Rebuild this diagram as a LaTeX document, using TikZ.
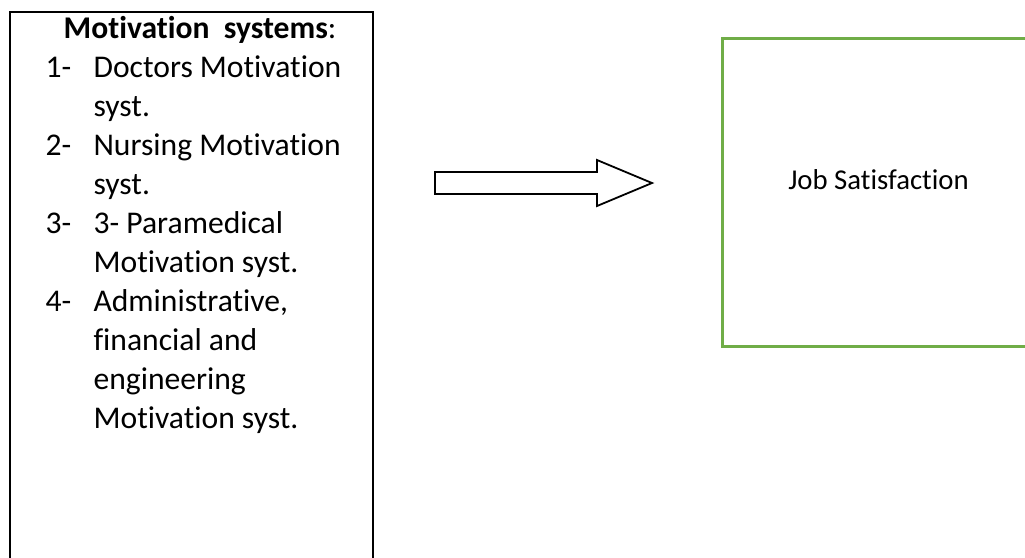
\documentclass[tikz,border=0pt]{standalone}
\usepackage{fontspec}
\setmainfont{Carlito}[Ligatures=CommonOff]
\usetikzlibrary{positioning,calc}
\definecolor{boxgreen}{RGB}{112,173,71}
\newcommand \mypx{0.348pt}
\newcommand \myitem[3]
{
\node[listtext] (n#1) at (45,#2) {#1-};
\node[listtext] (t#1) at (93,#2) {#3};
}
\tikzset{
  listtext/.style={anchor=base west,inner sep=0pt,font=\fontsize{11pt}{13.7pt}\selectfont},
  motivbox/.style={draw=black,line width=2.8*\mypx,inner sep=0pt,outer sep=0pt},
  jobbox/.style={draw=boxgreen,line width=3*\mypx,inner sep=0pt,outer sep=0pt},
  blockarrow/.style={draw=black,line width=1.8*\mypx,fill=white,line join=miter}
}
\begin{document}
\begin{tikzpicture}[x=\mypx, y=-\mypx]
\clip (0,0) rectangle (1025,557);
% left box, open below the page
\node[motivbox,minimum width=363*\mypx,minimum height=620*\mypx] (motiv) at (191.5,322) {};
\node[anchor=base,inner sep=0pt,font=\fontsize{11pt}{13.7pt}\selectfont] (title) at (200,38) {\textbf{Motivation\ \ systems}:};
\myitem{1}{77}{Doctors Motivation}
\node[listtext] (t1b) at (93,116) {syst.};
\myitem{2}{155}{Nursing Motivation}
\node[listtext] (t2b) at (93,194) {syst.};
\myitem{3}{233}{3- Paramedical}
\node[listtext] (t3b) at (93,272) {Motivation syst.};
\myitem{4}{311}{Administrative,}
\node[listtext] (t4b) at (93,350) {financial and};
\node[listtext] (t4c) at (93,389) {engineering};
\node[listtext] (t4d) at (93,428) {Motivation syst.};
% right box, open to the right
\node[jobbox,minimum width=400*\mypx,minimum height=308*\mypx] (job) at (922,192) {};
\node[anchor=base,inner sep=0pt,font=\fontsize{10pt}{12pt}\selectfont] (jobtext) at (878.5,189) {Job Satisfaction};
% block arrow
\coordinate (a1) at (435,172);
\coordinate (a2) at (597,172);
\coordinate (a3) at (597,160);
\coordinate (tip) at (652,183);
\coordinate (a5) at (597,206);
\coordinate (a6) at (597,194);
\coordinate (a7) at (435,194);
\draw[blockarrow] (a1)--(a2)--(a3)--(tip)--(a5)--(a6)--(a7)--cycle;
\end{tikzpicture}
\end{document}
